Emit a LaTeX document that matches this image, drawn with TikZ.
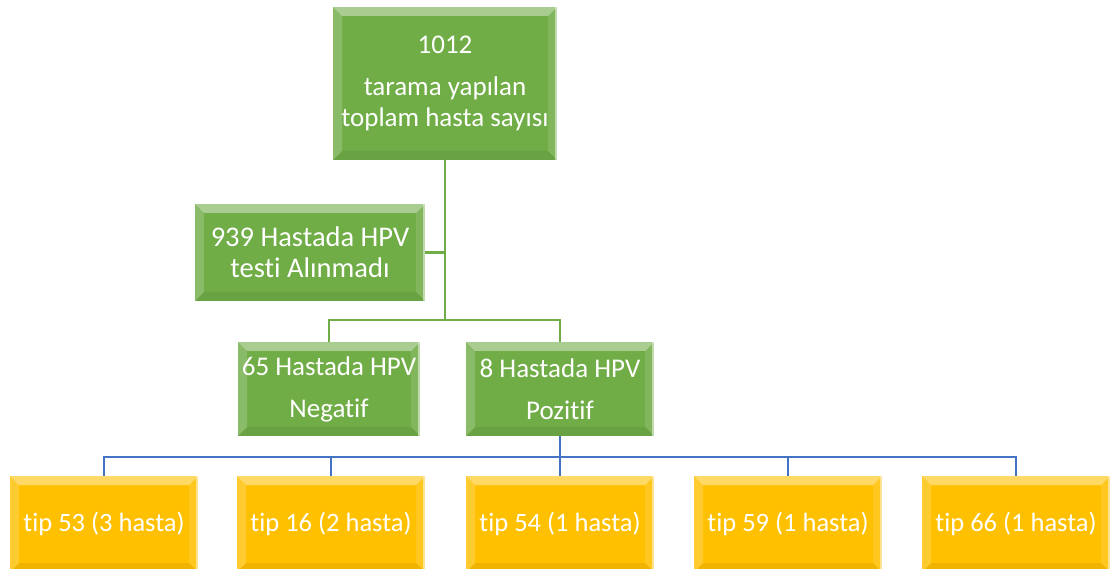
\documentclass[tikz,border=0pt]{standalone}
\usepackage{fontspec}
\setmainfont[Ligatures=NoCommon]{Carlito}
\usepackage{xcolor}
\usepackage{tikz}
\usetikzlibrary{arrows.meta, positioning, calc}

\definecolor{boxgreen}{HTML}{70AD47}
\definecolor{boxyellow}{HTML}{FFC000}
\definecolor{lineblue}{HTML}{4472C4}

\begin{document}
\begin{tikzpicture}[
      x=1pt, y=-1pt,
      bevel/.style={path picture={
          \fill[white, opacity=0.4] (path picture bounding box.north west) -- (path picture bounding box.north east)
            -- ([xshift=-9pt, yshift=-9pt]path picture bounding box.north east) -- ([xshift=9pt, yshift=-9pt]path picture bounding box.north west) -- cycle;
          \fill[white, opacity=0.18] (path picture bounding box.north west) -- (path picture bounding box.south west)
            -- ([xshift=9pt, yshift=9pt]path picture bounding box.south west) -- ([xshift=9pt, yshift=-9pt]path picture bounding box.north west) -- cycle;
          \fill[black, opacity=0.06] (path picture bounding box.south west) -- (path picture bounding box.south east)
            -- ([xshift=-9pt, yshift=9pt]path picture bounding box.south east) -- ([xshift=9pt, yshift=9pt]path picture bounding box.south west) -- cycle;
          \fill[white, opacity=0.12] (path picture bounding box.north east) -- (path picture bounding box.south east)
            -- ([xshift=-9pt, yshift=9pt]path picture bounding box.south east) -- ([xshift=-9pt, yshift=-9pt]path picture bounding box.north east) -- cycle;
          \draw[white, opacity=0.5, line width=1.5pt] ([xshift=-1pt]path picture bounding box.north east) -- ([xshift=-1pt]path picture bounding box.south east);
        }},
      greenbox/.style={rectangle, fill=boxgreen, bevel, text=white, align=center, inner sep=0pt,
        font=\fontsize{27}{31}\selectfont},
      tipbox/.style={rectangle, fill=boxyellow, bevel, text=white, align=center, inner sep=0pt,
        minimum width=188pt, minimum height=96pt, font=\fontsize{26.5}{31}\selectfont},
      gline/.style={draw=boxgreen, line width=2.5pt},
      bline/.style={draw=lineblue, line width=2.5pt}
    ]
    \useasboundingbox (0,0) rectangle (1112,569);

    % Patients
    \node[greenbox, minimum width=224pt, minimum height=153pt] (total) at (445,83.5)
      {1012\\[11pt] tarama yapılan\\toplam hasta sayısı};
    \node[greenbox, minimum width=230pt, minimum height=97pt, font=\fontsize{28.5}{31}\selectfont] (nottested) at (310,252.5)
      {939 Hastada HPV\\testi Alınmadı};
    \node[greenbox, minimum width=182pt, minimum height=94pt] (negative) at (329,389)
      {65 Hastada HPV\\[11pt]Negatif};
    \node[greenbox, minimum width=188pt, minimum height=94pt] (positive) at (560,389)
      {8 Hastada HPV\\[11pt]Pozitif};

    % HPV types
    \node[tipbox] (t53) at (104,524) {tip 53 (3 hasta)};
    \node[tipbox] (t16) at (331,524) {tip 16 (2 hasta)};
    \node[tipbox] (t54) at (560,524) {tip 54 (1 hasta)};
    \node[tipbox] (t59) at (788,524) {tip 59 (1 hasta)};
    \node[tipbox] (t66) at (1016,524) {tip 66 (1 hasta)};

    % Green connectors
    \coordinate (greenbus) at (445,320);
    \draw[gline] (total.south) -- (greenbus);
    \draw[gline] (nottested.east) -- (nottested.east -| total.south);
    \draw[gline] (negative.north) |- (greenbus) -| (positive.north);

    % Blue connectors
    \coordinate (bluebus) at (560,457);
    \foreach \t in {t53, t16, t54, t59, t66}
      \draw[bline] (positive.south) |- (bluebus -| \t.north) -- (\t.north);
  \end{tikzpicture}
\end{document}
